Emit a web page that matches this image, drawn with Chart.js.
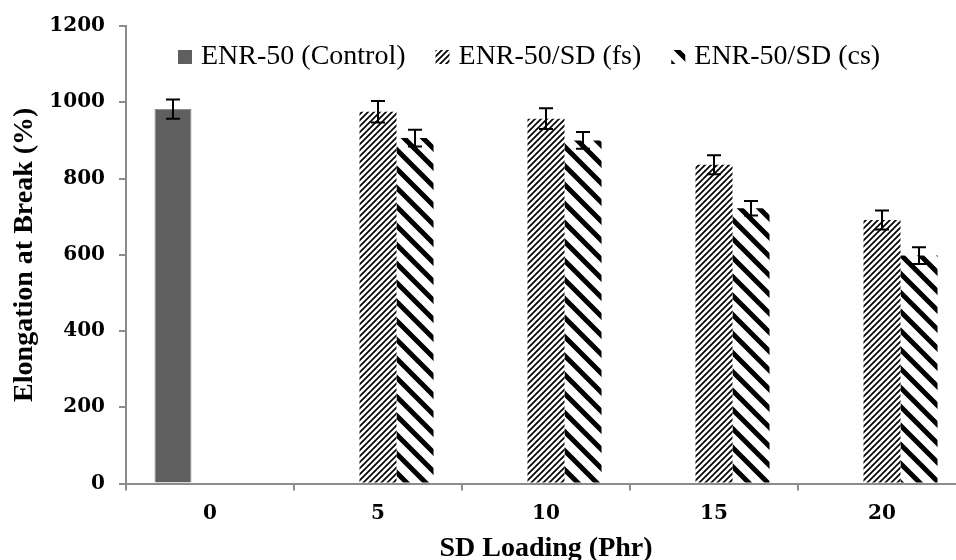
<!DOCTYPE html>
<html>
<head>
<meta charset="utf-8">
<script src="https://cdn.jsdelivr.net/npm/chart.js@4"></script>
<style>
  html, body { margin: 0; padding: 0; background: #fff; overflow: hidden; }
  #wrap { width: 956px; height: 560px; overflow: hidden; position: relative; }
  canvas { display: block; }
</style>
</head>
<body>
<div id="wrap"><canvas id="chart" width="980" height="580"></canvas></div>
<script>
// SD loading (phr) categories
const loadings = ['0', '5', '10', '15', '20'];
const yTicks = [0, 200, 400, 600, 800, 1000, 1200];

// elongation at break (%) and error bars
const control = [982, null, null, null, null];
const controlErr = [25, null, null, null, null];
const fs = [null, 975, 957, 836, 691];
const fsErr = [null, 28, 27, 25, 25];
const cs = [null, 906, 900, 722, 598];
const csErr = [null, 22, 22, 19, 22];

function makeFinePattern() {
    const c = document.createElement('canvas');
    c.width = 6; c.height = 6;
    const g = c.getContext('2d');
    g.fillStyle = '#fff';
    g.fillRect(0, 0, 6, 6);
    g.strokeStyle = '#000';
    g.lineWidth = 1.7;
    g.beginPath();
    g.moveTo(-1, 7); g.lineTo(7, -1);
    g.moveTo(-1, 1); g.lineTo(1, -1);
    g.moveTo(5, 7); g.lineTo(7, 5);
    g.stroke();
    return g.createPattern(c, 'repeat');
}

function makeBoldPattern() {
    const n = 19;
    const c = document.createElement('canvas');
    c.width = n; c.height = n;
    const g = c.getContext('2d');
    g.fillStyle = '#fff';
    g.fillRect(0, 0, n, n);
    g.strokeStyle = '#000';
    g.lineWidth = 5;
    g.beginPath();
    g.moveTo(-2, -2); g.lineTo(n + 2, n + 2);
    g.moveTo(-2, n - 2); g.lineTo(2, n + 2);
    g.moveTo(n - 2, -2); g.lineTo(n + 2, 2);
    g.stroke();
    return g.createPattern(c, 'repeat');
}

const finePattern = makeFinePattern();
const boldPattern = makeBoldPattern();

const errorBars = {
    id: 'errorBars',
    afterDatasetsDraw(chart) {
        const ctx = chart.ctx;
        const y = chart.scales.y;
        ctx.save();
        ctx.strokeStyle = '#000';
        ctx.lineWidth = 2;
        chart.data.datasets.forEach((ds, di) => {
            const meta = chart.getDatasetMeta(di);
            ds.data.forEach((v, i) => {
                if (v == null) return;
                const e = ds.errors[i];
                const x = meta.data[i].x;
                const top = y.getPixelForValue(v + e);
                const bot = y.getPixelForValue(v - e);
                ctx.beginPath();
                ctx.moveTo(x, top); ctx.lineTo(x, bot);
                ctx.moveTo(x - 7, top); ctx.lineTo(x + 7, top);
                ctx.moveTo(x - 7, bot); ctx.lineTo(x + 7, bot);
                ctx.stroke();
            });
        });
        ctx.restore();
    }
};

const insideLegend = {
    id: 'insideLegend',
    afterDraw(chart) {
        const ctx = chart.ctx;
        ctx.save();
        ctx.font = '28px "Liberation Serif"';
        ctx.textBaseline = 'middle';
        ctx.fillStyle = '#000';
        let x = 178;
        const yMid = 57;
        chart.data.datasets.forEach((ds) => {
            ctx.fillStyle = ds.backgroundColor;
            ctx.fillRect(x, yMid - 7, 14, 14);
            ctx.fillStyle = '#000';
            ctx.fillText(ds.label, x + 23, yMid);
            x += 23 + ctx.measureText(ds.label).width + 30;
        });
        ctx.restore();
    }
};

new Chart(document.getElementById('chart'), {
    type: 'bar',
    data: {
        labels: loadings,
        datasets: [
            { label: 'ENR-50 (Control)', data: control, errors: controlErr,
              backgroundColor: '#5f5f5f', borderColor: '#8f8f8f', borderWidth: 1 },
            { label: 'ENR-50/SD (fs)', data: fs, errors: fsErr,
              backgroundColor: finePattern, borderWidth: 0 },
            { label: 'ENR-50/SD (cs)', data: cs, errors: csErr,
              backgroundColor: boldPattern, borderWidth: 0 }
        ]
    },
    options: {
        responsive: false,
        animation: false,
        layout: { padding: { top: 21, right: 14, left: 0, bottom: 0 } },
        categoryPercentage: 0.661,
        barPercentage: 1.0,
        plugins: {
            legend: { display: false },
            tooltip: { enabled: false }
        },
        scales: {
            x: {
                offset: true,
                grid: { offset: true, drawOnChartArea: false, drawTicks: true, tickLength: 7, color: '#8c8c8c', lineWidth: 2 },
                border: { color: '#8c8c8c', width: 2 },
                ticks: { color: '#000', font: { family: '"DejaVu Serif"', size: 20, weight: 'bold' }, padding: 11 },
                title: {
                    display: true, text: 'SD Loading (Phr)', color: '#000',
                    font: { family: '"Liberation Serif"', size: 28, weight: 'bold' },
                    padding: { top: 0, bottom: 14 }
                },
                afterFit(scale) { scale.height = 96.5; }
            },
            y: {
                min: 0,
                max: 1200,
                afterBuildTicks(scale) { scale.ticks = yTicks.map(v => ({ value: v })); },
                grid: { drawOnChartArea: false, drawTicks: true, tickLength: 7, color: '#8c8c8c', lineWidth: 2 },
                border: { color: '#8c8c8c', width: 2 },
                ticks: {
                    color: '#000', font: { family: '"DejaVu Serif"', size: 20, weight: 'bold' }, padding: 14,
                    callback: (v) => String(v)
                },
                title: {
                    display: true, text: 'Elongation at Break (%)', color: '#000',
                    font: { family: '"Liberation Serif"', size: 28, weight: 'bold' },
                    padding: { top: 8, bottom: 0 }
                },
                afterFit(scale) { scale.width = 126; }
            }
        }
    },
    plugins: [errorBars, insideLegend]
});
</script>
</body>
</html>
